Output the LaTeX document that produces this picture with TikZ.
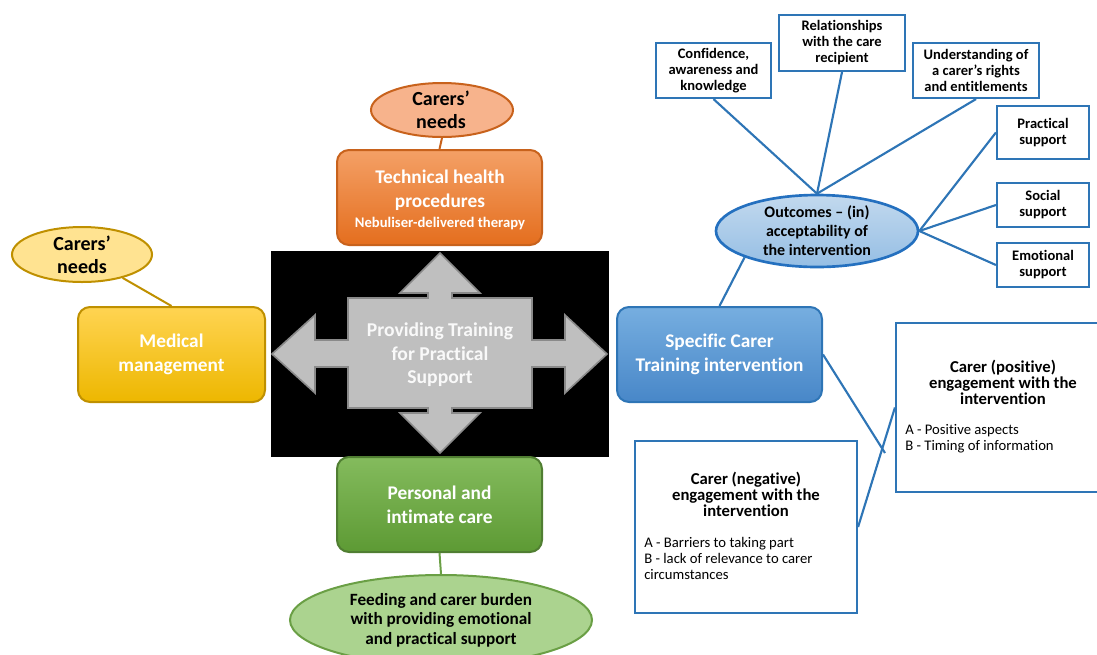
\documentclass[tikz,border=0pt]{standalone}
\usepackage{fontspec}
\setmainfont{Carlito}[Ligatures=NoCommon]
\usetikzlibrary{shapes.geometric,calc}
\definecolor{orTop}{HTML}{F4A066}
\definecolor{orBot}{HTML}{E46E1E}
\definecolor{orEdge}{HTML}{C8621C}
\definecolor{salmon}{HTML}{F7B38C}
\definecolor{yeFill}{HTML}{FFE391}
\definecolor{yeEdge}{HTML}{BF9000}
\definecolor{goTop}{HTML}{FFD452}
\definecolor{goBot}{HTML}{EDB700}
\definecolor{grTop}{HTML}{84BB5D}
\definecolor{grBot}{HTML}{5D9A34}
\definecolor{grEdge}{HTML}{507E32}
\definecolor{grFill}{HTML}{ABD38F}
\definecolor{grLine}{HTML}{6A9F45}
\definecolor{blTop}{HTML}{76AEE0}
\definecolor{blBot}{HTML}{4887C8}
\definecolor{blEdge}{HTML}{2E75B6}
\definecolor{ouTop}{HTML}{C2D9EE}
\definecolor{ouBot}{HTML}{95BEE4}
\definecolor{ouEdge}{HTML}{2470BF}
\definecolor{crFill}{HTML}{BFBFBF}
\definecolor{crEdge}{HTML}{8A8A8A}
\tikzset{
  W/.style={minimum width=#1*0.75pt},
  H/.style={minimum height=#1*0.75pt},
  cbox/.style={rectangle, rounded corners=9pt, inner sep=0pt, line width=1.5pt, align=center,
     text=white, font=\bfseries\fontsize{14.5}{18}\selectfont},
  wbox/.style={rectangle, inner sep=0pt, draw=blEdge, line width=1.6pt, fill=white, align=center,
     font=\bfseries\fontsize{10.9}{12}\selectfont},
  ell/.style={ellipse, inner sep=0pt, line width=1.5pt},
  etext/.style={align=center, inner sep=0pt, font=\bfseries\fontsize{15}{17.4}\selectfont},
  bline/.style={draw=blEdge, line width=1.6pt},
  ttl/.style={align=center, inner sep=0pt, font=\bfseries\fontsize{12.5}{12}\selectfont},
  itm/.style={anchor=west, align=left, inner sep=0pt, font=\fontsize{11}{12}\selectfont},
}
\begin{document}
\begin{tikzpicture}[x=0.75pt,y=-0.75pt]
\useasboundingbox (0,0) rectangle (1097,654);
% black background picture
\node[rectangle, fill=black, inner sep=0pt, W=338, H=206] (bg) at (440,354) {};
% cross arrow
\filldraw[fill=crFill, draw=crEdge, line width=1.2pt, line join=miter]
 (440,253) -- (480,293) -- (452,293) -- (452,298) -- (532,298) -- (532,340) -- (565,340) -- (565,315)
 -- (607,354) -- (565,393) -- (565,367) -- (532,367) -- (532,408) -- (452,408) -- (452,413) -- (480,413)
 -- (440,453) -- (400,413) -- (428,413) -- (428,408) -- (348,408) -- (348,367) -- (315,367) -- (315,393)
 -- (272,354) -- (315,315) -- (315,340) -- (348,340) -- (348,298) -- (428,298) -- (428,293) -- (400,293) -- cycle;
\node[align=center, text=white!95!gray, font=\bfseries\fontsize{14.7}{17.6}\selectfont] (crosstxt) at (440,355)
 {Providing Training\\for Practical\\Support};
% coloured boxes
\node[cbox, W=205, H=95, draw=orEdge, top color=orTop, bottom color=orBot] (tech) at (439.5,197.5) {};
\node[align=center, text=white, font=\bfseries\fontsize{14.5}{18}\selectfont] (techt) at (440,200)
 {Technical health\\procedures\\[-2.5pt]{\fontsize{11}{12}\selectfont Nebuliser-delivered therapy}};
\node[cbox, W=187, H=95, draw=yeEdge, top color=goTop, bottom color=goBot] (med) at (171.5,354.5)
 {Medical\\management};
\node[cbox, W=205, H=95, draw=grEdge, top color=grTop, bottom color=grBot] (pers) at (439.5,504.5)
 {Personal and\\intimate care};
\node[cbox, W=205, H=95, draw=blEdge, top color=blTop, bottom color=blBot] (spec) at (719.5,354.5)
 {Specific Carer\\Training intervention};
% ellipses
\node[ell, W=142, H=54, draw=orEdge, fill=salmon] (cn1) at (442,110) {};
\node[etext] (cn1t) at (441,110) {Carers'\\needs};
\node[ell, W=140, H=55, draw=yeEdge, fill=yeFill] (cn2) at (82,254.5) {};
\node[etext] (cn2t) at (82,254.5) {Carers'\\needs};
\node[ell, W=302, H=90, draw=grLine, fill=grFill] (feed) at (441,620) {};
\node[etext, font=\bfseries\fontsize{12.9}{14.6}\selectfont] (feedt) at (441,620)
 {Feeding and carer burden\\with providing emotional\\and practical support};
\node[ell, W=202, H=72, draw=ouEdge, line width=2pt, top color=ouTop, bottom color=ouBot] (out) at (817,231) {};
\node[etext, font=\bfseries\fontsize{12}{14.3}\selectfont] (outt) at (817,231)
 {Outcomes -- (in)\\acceptability of\\the intervention};
% outcome boxes
\node[wbox, W=115, H=55] (conf) at (713.5,70.5) {Confidence,\\awareness and\\knowledge};
\node[wbox, W=126, H=56] (rel) at (842,43) {Relationships\\with the care\\recipient};
\node[wbox, W=126, H=55] (und) at (976,70.5) {Understanding of\\a carer's rights\\and entitlements};
\node[wbox, W=92, H=53] (prac) at (1043,132.5) {Practical\\support};
\node[wbox, W=92, H=44] (soc) at (1043,205) {Social\\support};
\node[wbox, W=92, H=44] (emo) at (1043,265) {Emotional\\support};
% engagement boxes
\node[wbox, W=206, H=169] (pos) at (999,407.5) {};
\node[wbox, W=222, H=172] (neg) at (746,527) {};
\node[ttl] (post) at (1003,382) {Carer (positive)\\engagement with the\\intervention};
\node[itm] (posi) at (905,439) {A - Positive aspects\\B - Timing of information};
\node[ttl] (negt) at (746,494) {Carer (negative)\\engagement with the\\intervention};
\node[itm] (negi) at (644,558) {A - Barriers to taking part\\B - lack of relevance to carer\\circumstances};
% connectors
\draw[draw=orEdge, line width=1.5pt] (cn1.south) -- (tech.north);
\draw[draw=yeEdge, line width=1.5pt] (cn2) -- (med.north);
\draw[draw=grLine, line width=1.5pt] (pers.south) -- (feed.north);
\draw[bline] (spec.north) -- (out.200);
\draw[bline] (conf.south) -- (out.north);
\draw[bline] (rel.south) -- (out.north);
\draw[bline] (und.south) -- (out.north);
\draw[bline] (prac.west) -- (out.east);
\draw[bline] (soc.west) -- (out.east);
\draw[bline] (emo.west) -- (out.east);
\coordinate (loose) at (885,453);
\draw[bline] (spec.east) -- (loose);
\draw[bline] (neg.east) -- (pos.west);
\end{tikzpicture}
\end{document}
